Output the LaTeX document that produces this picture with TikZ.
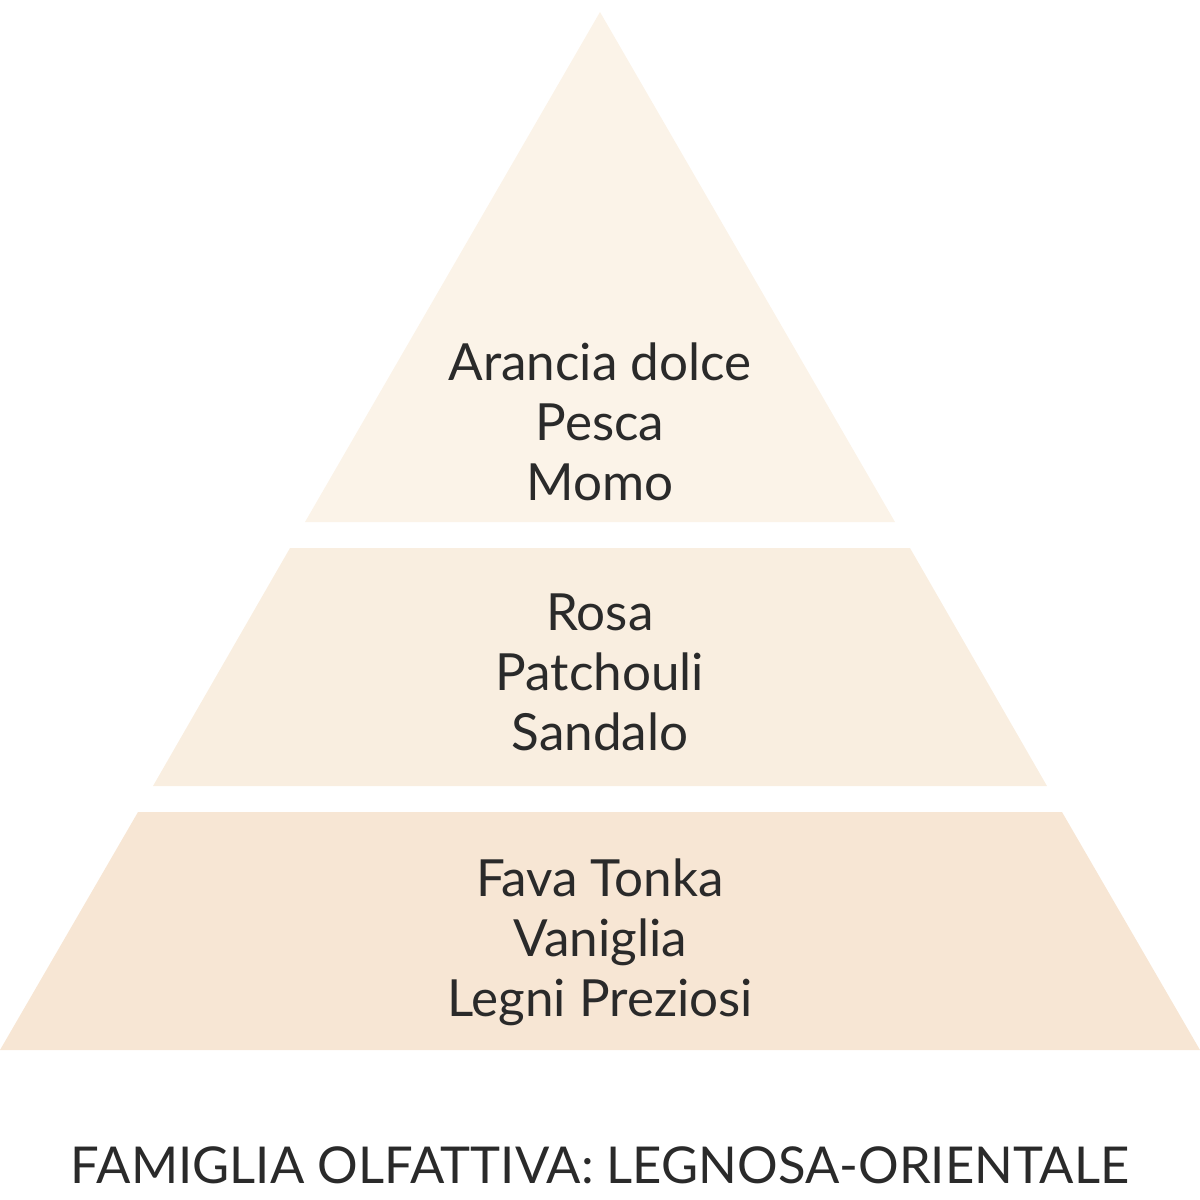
\documentclass[tikz,border=0pt]{standalone}
\usepackage{fontspec}
\setmainfont{Lato}
\definecolor{ctop}{HTML}{FBF3E8}
\definecolor{cmid}{HTML}{F9EEE0}
\definecolor{cbot}{HTML}{F7E6D4}
\definecolor{ctext}{HTML}{2A2A2A}
\begin{document}
\begin{tikzpicture}[x=0.5pt,y=-0.5pt,
  lbl/.style={text=ctext,font=\fontsize{25.6}{30}\selectfont,align=center,inner sep=0pt,anchor=base}]
\useasboundingbox (0,0) rectangle (1200,1200);
\fill[ctop] (600,12) -- (895,522) -- (305,522) -- cycle;
\fill[cmid] (290,548) -- (910,548) -- (1047,786) -- (153,786) -- cycle;
\fill[cbot] (138,812) -- (1062,812) -- (1200,1050) -- (0,1050) -- cycle;
\node[lbl] (t1) at (600,380) {Arancia dolce};
\node[lbl] (t2) at (600,440) {Pesca};
\node[lbl] (t3) at (600,500) {Momo};
\node[lbl] (m1) at (600,630) {Rosa};
\node[lbl] (m2) at (600,690) {Patchouli};
\node[lbl] (m3) at (600,750) {Sandalo};
\node[lbl] (b1) at (600,896) {Fava Tonka};
\node[lbl] (b2) at (600,956) {Vaniglia};
\node[lbl] (b3) at (600,1016) {Legni Preziosi};
\node[lbl,font=\fontsize{25.4}{30}\selectfont] (fam) at (600,1183) {FAMIGLIA OLFATTIVA: LEGNOSA-ORIENTALE};
\end{tikzpicture}
\end{document}
